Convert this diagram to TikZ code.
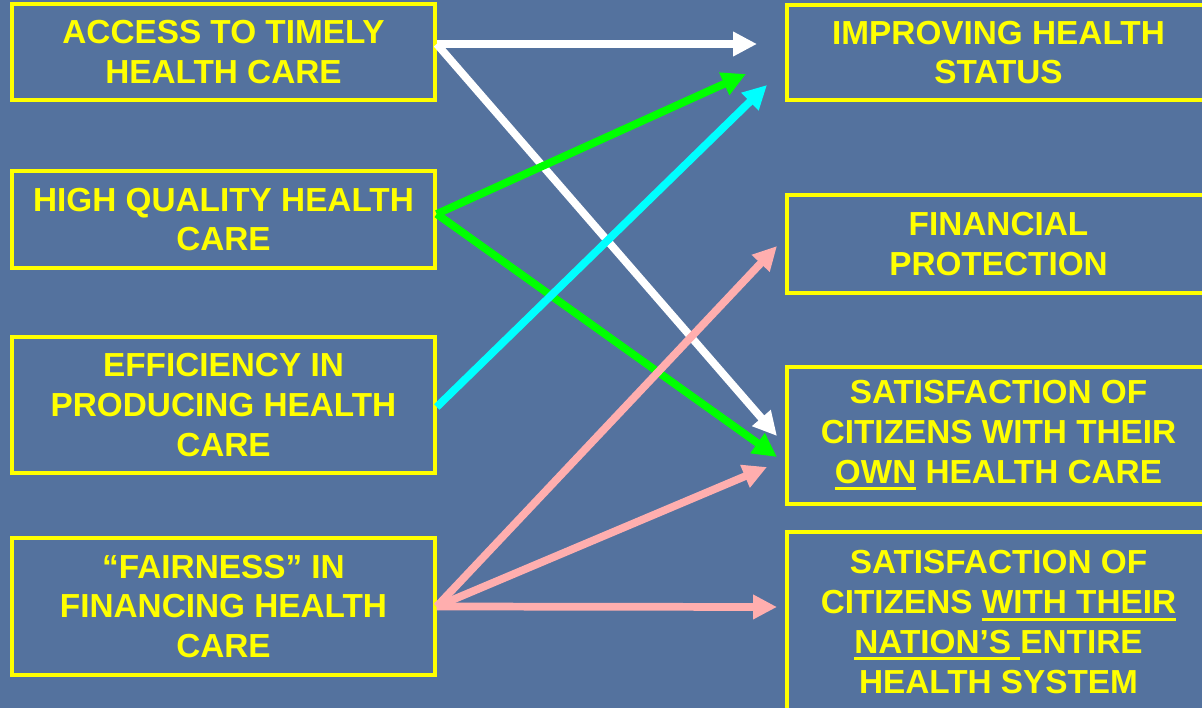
\documentclass[tikz,border=0pt]{standalone}
\usepackage{fontspec}
\setmainfont{Liberation Sans}
\usepackage{tikz}
\usetikzlibrary{arrows.meta, calc}
\usepackage{xcolor}
\definecolor{slideblue}{HTML}{54729E}
\definecolor{goalyellow}{HTML}{FFFF00}
\definecolor{linkgreen}{HTML}{00FF00}
\definecolor{linkcyan}{HTML}{00FFFF}
\definecolor{linkpink}{HTML}{FFAEAE}

% thick underline that scales with the big box text
\newcommand{\ulined}[1]{\setbox0=\hbox{#1}\rlap{\rule[-5pt]{\wd0}{2.2pt}}\box0\relax}

\begin{document}
\begin{tikzpicture}[
  x=0.025cm, y=-0.025cm,
  goal/.style={draw=goalyellow, line width=2.4pt, minimum width=10.575cm,
    align=center, text=goalyellow, inner sep=0pt,
    font=\fontsize{23.7}{28.3}\selectfont\bfseries},
  link/.style={line width=5.5pt, -{Triangle[length=17pt, width=16.5pt]}}
]
  \useasboundingbox (0,0) rectangle (1202,708);
  \clip (0,0) rectangle (1202,708);
  \fill[slideblue] (0,0) rectangle (1202,708);

  % Left column
  \node[goal, minimum height=2.4cm] (access) at (223.5,52)
    {ACCESS TO TIMELY\\HEALTH CARE};
  \node[goal, minimum height=2.425cm] (quality) at (223.5,219.5)
    {HIGH QUALITY HEALTH\\CARE};
  \node[goal, minimum height=3.4cm] (effic) at (223.5,405)
    {EFFICIENCY IN\\PRODUCING HEALTH\\CARE};
  \node[goal, minimum height=3.425cm] (fair) at (223.5,606.5)
    {“FAIRNESS” IN\\FINANCING HEALTH\\CARE};

  % Right column
  \node[goal, minimum height=2.375cm] (status) at (998.5,52.5)
    {IMPROVING HEALTH\\STATUS};
  \node[goal, minimum height=2.45cm] (protect) at (998.5,244)
    {FINANCIAL\\PROTECTION};
  \node[goal, minimum height=3.425cm] (ownsat) at (998.5,435.5)
    {SATISFACTION OF\\CITIZENS WITH THEIR\\\ulined{OWN} HEALTH CARE};
  \node[goal, minimum height=4.5cm] (natsat) at (998.5,622)
    {SATISFACTION OF\\CITIZENS \ulined{WITH THEIR}\\\ulined{NATION’S\ }ENTIRE\\HEALTH SYSTEM};

  % Arrow tips
  \coordinate (acc1) at (757,44);
  \coordinate (acc2) at (777,436);
  \coordinate (qual1) at (746,74);
  \coordinate (qual2) at (777,457);
  \coordinate (eff1) at (767,85);
  \coordinate (fair1) at (777,246);
  \coordinate (fair2) at (767,467);
  \coordinate (fair3) at (777,607);

  % Arrows
  \foreach \t in {acc1,acc2}
    \draw[link, white] ($(access.east)+(0,-8)$) -- (\t);
  \foreach \t in {qual1,qual2}
    \draw[link, linkgreen] ($(quality.east)+(0,-5.5)$) -- (\t);
  \draw[link, linkcyan] ($(effic.east)+(0,2)$) -- (eff1);
  \foreach \t in {fair1,fair2,fair3}
    \draw[link, linkpink] (fair.east) -- (\t);
\end{tikzpicture}
\end{document}
